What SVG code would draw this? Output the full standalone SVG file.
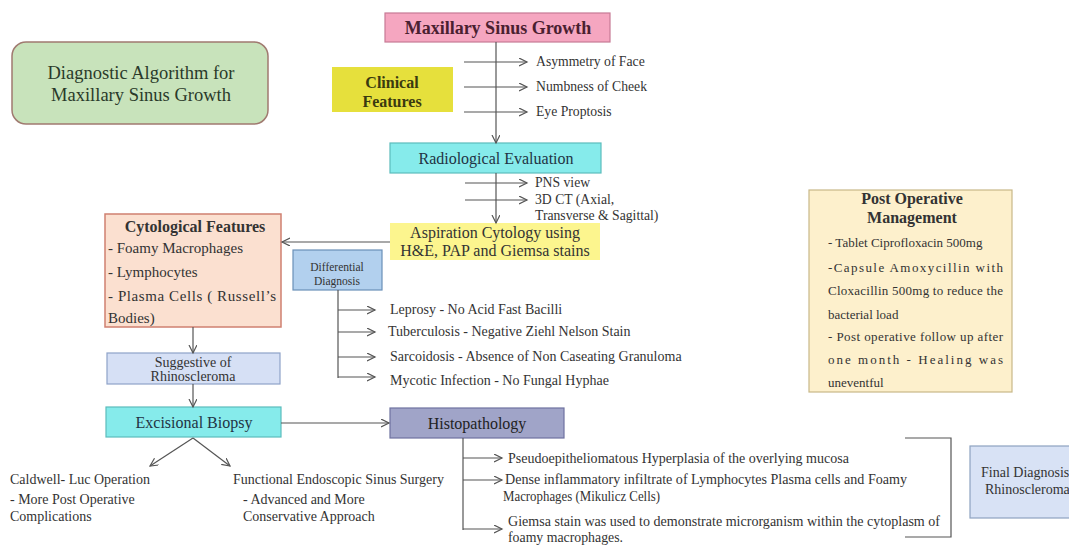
<svg xmlns="http://www.w3.org/2000/svg" width="1069" height="545" viewBox="0 0 1069 545">
<defs>
<marker id="ah" markerWidth="10" markerHeight="10" refX="8" refY="4" orient="auto" markerUnits="userSpaceOnUse">
<path d="M0,0 L8,4 L0,8" fill="none" stroke="#555" stroke-width="1.2"/>
</marker>
<style>
text{font-family:"Liberation Serif","Times New Roman",serif;fill:#333;}
.c{text-anchor:middle;}
.b{font-weight:bold;}
.ln{fill:none;stroke:#555;stroke-width:1.2;}
.ar{marker-end:url(#ah);}
.s14{font-size:14px;}
.s137{font-size:13.7px;}
.s13{font-size:13px;}
.s16{font-size:16px;}
</style>
</defs>
<rect width="1069" height="545" fill="#ffffff"/>

<g id="title">
<rect x="12" y="42" width="256" height="82" rx="14" fill="#c8e3bb" stroke="#a07a70" stroke-width="1.5"/>
<text x="141" y="79" class="c" font-size="18.5" style="fill:#2a3a2a">Diagnostic Algorithm for</text>
<text x="141" y="101" class="c" font-size="18.5" style="fill:#2a3a2a">Maxillary Sinus Growth</text>
</g>

<g id="maxillary">
<rect x="385" y="13" width="225" height="29" fill="#f5a6c0" stroke="#c77a95" stroke-width="1.2"/>
<text x="498" y="34" class="c b" font-size="18" style="fill:#4a2030">Maxillary Sinus Growth</text>
</g>

<g id="clinical">
<rect x="332" y="67" width="121" height="45" fill="#e6e03c"/>
<text x="392" y="88" class="c b" font-size="16" style="fill:#3a3a10">Clinical</text>
<text x="392" y="107" class="c b" font-size="16" style="fill:#3a3a10">Features</text>
</g>

<g id="clinical-items" class="s137">
<text x="536" y="66">Asymmetry of Face</text>
<text x="536" y="91">Numbness of  Cheek</text>
<text x="536" y="116">Eye Proptosis</text>
</g>

<g id="radiological">
<rect x="390" y="143" width="211" height="30" fill="#86ebeb" stroke="#5cbcbc" stroke-width="1.2"/>
<text x="496" y="164" class="c s16" style="fill:#234">Radiological Evaluation</text>
</g>

<g id="radio-items" class="s137">
<text x="535" y="187">PNS view</text>
<text x="535" y="204">3D CT (Axial,</text>
<text x="535" y="220">Transverse &amp; Sagittal)</text>
</g>

<g id="aspiration">
<rect x="390" y="223" width="210" height="37" fill="#fcf58e"/>
<text x="495" y="238" class="c s16">Aspiration Cytology using</text>
<text x="495" y="256" class="c s16">H&amp;E, PAP and Giemsa stains</text>
</g>

<g id="cytological">
<rect x="105" y="214" width="176" height="113" fill="#fbe0d0" stroke="#cf8070" stroke-width="1.5"/>
<text x="195" y="232" class="c b" font-size="16">Cytological Features</text>
<text x="108" y="253" font-size="15">- Foamy Macrophages</text>
<text x="108" y="277" font-size="15">- Lymphocytes</text>
<text x="108" y="301" font-size="15" textLength="168" lengthAdjust="spacing">- Plasma Cells ( Russell’s</text>
<text x="108" y="323" font-size="15">Bodies)</text>
</g>

<g id="differential">
<rect x="293" y="250" width="89" height="40" fill="#b2d0ee" stroke="#6a90b8" stroke-width="1.2"/>
<text x="337" y="271" class="c" font-size="11.5">Differential</text>
<text x="337" y="285" class="c" font-size="11.5">Diagnosis</text>
</g>

<g id="diff-items" class="s14">
<text x="390" y="314">Leprosy - No Acid Fast Bacilli</text>
<text x="388" y="336">Tuberculosis - Negative Ziehl Nelson Stain</text>
<text x="390" y="361">Sarcoidosis - Absence of Non Caseating Granuloma</text>
<text x="390" y="385">Mycotic Infection - No Fungal Hyphae</text>
</g>

<g id="suggestive">
<rect x="107" y="353" width="173" height="31" fill="#d6e0f5" stroke="#8ea2c8" stroke-width="1.2"/>
<text x="193" y="367" class="c s14">Suggestive of</text>
<text x="193" y="381" class="c s14">Rhinoscleroma</text>
</g>

<g id="excisional">
<rect x="106" y="407" width="175" height="30" fill="#86ebeb" stroke="#5cbcbc" stroke-width="1.2"/>
<text x="194" y="428" class="c s16" style="fill:#234">Excisional Biopsy</text>
</g>

<g id="caldwell" class="s14">
<text x="10" y="484">Caldwell- Luc Operation</text>
<text x="10" y="504">- More Post Operative</text>
<text x="10" y="521">Complications</text>
</g>

<g id="fess" class="s14">
<text x="233" y="484">Functional Endoscopic Sinus Surgery</text>
<text x="243" y="504">-  Advanced and More</text>
<text x="243" y="521">Conservative Approach</text>
</g>

<g id="histopathology">
<rect x="390" y="408" width="174" height="30" fill="#a0a4c8" stroke="#6e72a0" stroke-width="1.2"/>
<text x="477" y="429" class="c s16" style="fill:#222">Histopathology</text>
</g>

<g id="histo-items" class="s14">
<text x="508" y="463" textLength="341" lengthAdjust="spacingAndGlyphs">Pseudoepitheliomatous Hyperplasia of the overlying mucosa</text>
<text x="505" y="484" textLength="402" lengthAdjust="spacingAndGlyphs">Dense inflammatory infiltrate of  Lymphocytes Plasma cells and Foamy</text>
<text x="503" y="501" textLength="157" lengthAdjust="spacingAndGlyphs">Macrophages (Mikulicz Cells)</text>
<text x="508" y="526" textLength="432" lengthAdjust="spacingAndGlyphs">Giemsa stain was used to demonstrate microrganism within the cytoplasm of</text>
<text x="508" y="542" textLength="115" lengthAdjust="spacingAndGlyphs">foamy macrophages.</text>
</g>

<g id="final">
<rect x="970" y="446" width="105" height="72" fill="#d8e2f5" stroke="#8ea2c0" stroke-width="1.2"/>
<text x="981" y="477" class="s14">Final Diagnosis</text>
<text x="985" y="494" class="s14">Rhinoscleroma</text>
</g>

<g id="postop">
<rect x="809" y="190" width="203" height="202" fill="#fdf0cc" stroke="#c8b888" stroke-width="1.2"/>
<text x="912" y="204" class="c b" font-size="16">Post Operative</text>
<text x="912" y="223" class="c b" font-size="16">Management</text>
<text x="828" y="247" class="s13">- Tablet Ciprofloxacin 500mg</text>
<text x="828" y="272" class="s13" textLength="175" lengthAdjust="spacing">-Capsule Amoxycillin with</text>
<text x="828" y="295" class="s13" textLength="175" lengthAdjust="spacing">Cloxacillin 500mg to reduce the</text>
<text x="828" y="319" class="s13">bacterial load</text>
<text x="828" y="341" class="s13" textLength="175" lengthAdjust="spacing">- Post operative follow up after</text>
<text x="828" y="364" class="s13" textLength="175" lengthAdjust="spacing">one month - Healing was</text>
<text x="828" y="387" class="s13">uneventful</text>
</g>

<g id="connectors">
<line class="ln ar" x1="496" y1="42" x2="496" y2="143"/>
<line class="ln ar" x1="464" y1="62" x2="527" y2="62"/>
<line class="ln ar" x1="464" y1="87" x2="527" y2="87"/>
<line class="ln ar" x1="464" y1="112" x2="527" y2="112"/>
<line class="ln ar" x1="496" y1="173" x2="496" y2="223"/>
<line class="ln ar" x1="465" y1="183" x2="527" y2="183"/>
<line class="ln ar" x1="465" y1="200" x2="527" y2="200"/>
<line class="ln ar" x1="390" y1="242" x2="282" y2="242"/>
<line class="ln ar" x1="193" y1="327" x2="193" y2="353"/>
<line class="ln ar" x1="193" y1="384" x2="193" y2="407"/>
<line class="ln ar" x1="281" y1="423" x2="389" y2="423"/>
<line class="ln ar" x1="193" y1="438" x2="150" y2="466"/>
<line class="ln ar" x1="193" y1="438" x2="230" y2="466"/>
<path class="ln" d="M338,290 V378"/>
<line class="ln ar" x1="338" y1="310" x2="375" y2="310"/>
<line class="ln ar" x1="338" y1="332" x2="375" y2="332"/>
<line class="ln ar" x1="338" y1="357" x2="375" y2="357"/>
<line class="ln ar" x1="338" y1="377" x2="375" y2="377"/>
<path class="ln" d="M463,438 V530"/>
<line class="ln ar" x1="463" y1="458" x2="502" y2="458"/>
<line class="ln ar" x1="463" y1="480" x2="502" y2="480"/>
<line class="ln ar" x1="463" y1="529" x2="502" y2="529"/>
<path class="ln" d="M905,438 H951 V537 H905"/>
</g>
</svg>
